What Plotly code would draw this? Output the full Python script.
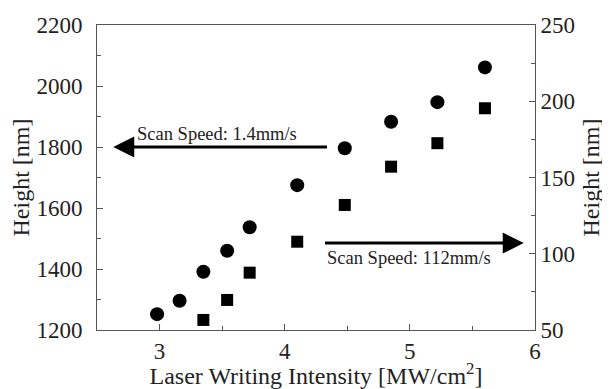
import plotly.graph_objects as go

intensity_circ = [2.98, 3.16, 3.35, 3.54, 3.72, 4.10, 4.48, 4.85, 5.22, 5.60]
height_slow = [1252, 1296, 1391, 1460, 1537, 1675, 1796, 1883, 1947, 2061]
intensity_sq = [3.35, 3.54, 3.72, 4.10, 4.48, 4.85, 5.22, 5.60]
height_fast = [56.6, 69.7, 87.6, 107.9, 132.0, 157.1, 172.5, 195.4]

FONT = "Liberation Serif"

fig = go.Figure()
fig.add_trace(go.Scatter(x=intensity_circ, y=height_slow, mode="markers",
                         marker=dict(symbol="circle", size=14, color="black"),
                         showlegend=False))
fig.add_trace(go.Scatter(x=intensity_sq, y=height_fast, mode="markers", yaxis="y2",
                         marker=dict(symbol="square", size=12, color="black"),
                         showlegend=False))

axcol = "#555555"
fig.update_layout(
    width=602, height=381,
    margin=dict(l=89, r=75, t=17, b=59),
    paper_bgcolor="white", plot_bgcolor="white",
    font=dict(family=FONT, size=23, color="#222222"),
    xaxis=dict(range=[2.5, 6], tickvals=[3, 4, 5, 6], ticks="inside", ticklen=6,
               minor=dict(tickvals=[3.5, 4.5, 5.5], ticks="inside", ticklen=4, tickcolor=axcol),
               showline=True, linecolor=axcol, linewidth=1, mirror=True, tickcolor=axcol,
               showgrid=False, zeroline=False, automargin=False,
               title=dict(text="Laser Writing Intensity [MW/cm<sup>2</sup>]", standoff=2,
                          font=dict(size=24))),
    yaxis=dict(range=[1200, 2200], tickvals=[1200, 1400, 1600, 1800, 2000, 2200],
               ticks="inside", ticklen=6,
               minor=dict(tickvals=[1300, 1500, 1700, 1900, 2100], ticks="inside", ticklen=4, tickcolor=axcol),
               showline=True, linecolor=axcol, linewidth=1, tickcolor=axcol,
               showgrid=False, zeroline=False, ticklabelstandoff=9, automargin=False,
               title=dict(text="Height [nm]", standoff=6, font=dict(size=24))),
    yaxis2=dict(range=[50, 250], tickvals=[50, 100, 150, 200, 250], overlaying="y", side="right",
                ticks="inside", ticklen=6,
                minor=dict(tickvals=[75, 125, 175, 225], ticks="inside", ticklen=4, tickcolor=axcol),
                showline=True, linecolor=axcol, linewidth=1, tickcolor=axcol,
                showgrid=False, zeroline=False, automargin=False,
                title=dict(text="Height [nm]", standoff=8, font=dict(size=24))),
)

fig.add_annotation(x=2.63, y=1800, ax=4.35, ay=1800, xref="x", yref="y", axref="x", ayref="y",
                   showarrow=True, arrowhead=2, arrowsize=1.4, arrowwidth=3, arrowcolor="black", text="")
fig.add_annotation(x=5.91, y=107, ax=4.31, ay=107, xref="x", yref="y2", axref="x", ayref="y2",
                   showarrow=True, arrowhead=2, arrowsize=1.4, arrowwidth=3, arrowcolor="black", text="")
fig.add_annotation(x=3.46, y=1843, xref="x", yref="y", text="Scan Speed: 1.4mm/s", showarrow=False,
                   font=dict(family=FONT, size=18.5, color="#222222"))
fig.add_annotation(x=4.99, y=97.2, xref="x", yref="y2", text="Scan Speed: 112mm/s", showarrow=False,
                   font=dict(family=FONT, size=18.5, color="#222222"))

fig.write_html("out.html")
